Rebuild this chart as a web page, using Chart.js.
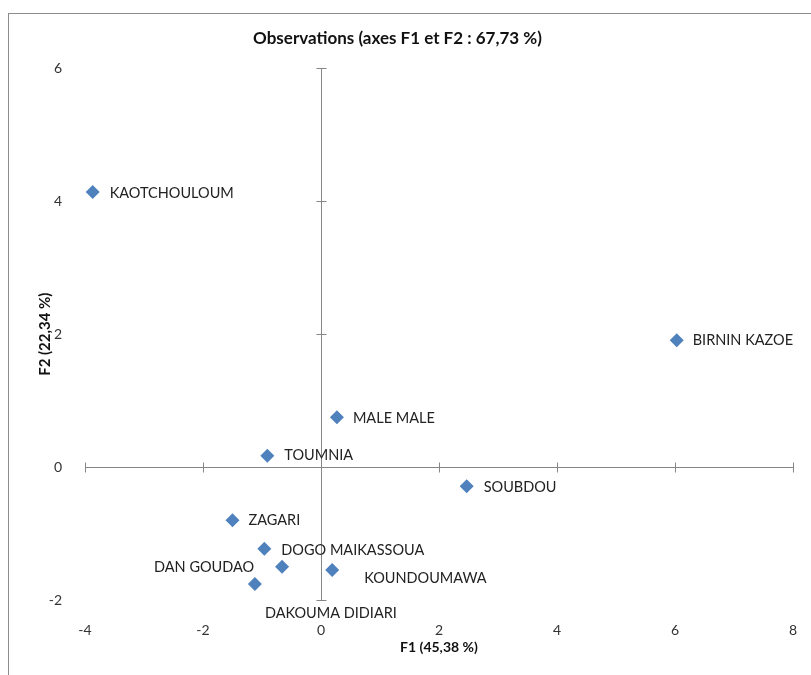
<!DOCTYPE html>
<html>
<head>
<meta charset="utf-8">
<script src="https://cdn.jsdelivr.net/npm/chart.js@4"></script>
<style>
  html, body { margin: 0; padding: 0; background: #fff; }
  canvas { display: block; }
</style>
</head>
<body>
<canvas id="chart" width="811" height="675"></canvas>
<script>
// observations (ACP, axes F1 / F2)
const names = ['KAOTCHOULOUM', 'BIRNIN KAZOE', 'MALE MALE', 'TOUMNIA', 'SOUBDOU',
  'ZAGARI', 'DOGO MAIKASSOUA', 'DAN GOUDAO', 'KOUNDOUMAWA', 'DAKOUMA DIDIARI']
const f1 = [-3.87, 6.03, 0.27, -0.91, 2.47, -1.50, -0.96, -0.66, 0.19, -1.12]
const f2 = [4.14, 1.91, 0.75, 0.17, -0.29, -0.80, -1.23, -1.50, -1.55, -1.76]

const xTicks = [-4, -2, 0, 2, 4, 6, 8]
const yTicks = [-2, 0, 2, 4, 6]

// where each label sits relative to its point (px)
const labelDx = [17, 16, 16, 17, 17, 16, 17, -128, 32, 10]
const labelDy = [1, 0, 1, 0, 1, 0, 1, 1, 8, 29]

const axisColor = '#868686'
const fontFam = 'Lato, "Open Sans", sans-serif'

const points = f1.map((x, i) => ({ x: x, y: f2[i] }))

// frame + axes through zero, like Excel
const axesPlugin = {
  id: 'axesZero',
  beforeDraw(chart) {
    const ctx = chart.ctx
    ctx.save()
    ctx.strokeStyle = '#8c8c8c'
    ctx.lineWidth = 1
    ctx.strokeRect(8.5, 13.5, 820, 700)
    ctx.restore()
  },
  beforeDatasetsDraw(chart) {
    const ctx = chart.ctx
    const xs = chart.scales.x, ys = chart.scales.y
    const x0 = Math.round(xs.getPixelForValue(0)) + 0.5
    const y0 = Math.round(ys.getPixelForValue(0)) + 0.5
    ctx.save()
    ctx.strokeStyle = axisColor
    ctx.lineWidth = 1
    ctx.beginPath()
    ctx.moveTo(xs.left, y0); ctx.lineTo(xs.right, y0)
    ctx.moveTo(x0, ys.top); ctx.lineTo(x0, ys.bottom)
    xTicks.forEach(v => {
      const px = Math.round(xs.getPixelForValue(v)) + 0.5
      ctx.moveTo(px, y0 - 5); ctx.lineTo(px, y0 + 5)
    })
    yTicks.forEach(v => {
      const py = Math.round(ys.getPixelForValue(v)) + 0.5
      ctx.moveTo(x0 - 5, py); ctx.lineTo(x0 + 5, py)
    })
    ctx.stroke()
    ctx.restore()
  },
  afterDatasetsDraw(chart) {
    const ctx = chart.ctx
    const meta = chart.getDatasetMeta(0)
    ctx.save()
    ctx.font = '14.5px ' + fontFam
    ctx.fillStyle = '#222'
    ctx.textBaseline = 'middle'
    ctx.textAlign = 'left'
    meta.data.forEach((el, i) => {
      ctx.fillText(names[i], el.x + labelDx[i], el.y + labelDy[i])
    })
    ctx.restore()
  }
}

new Chart(document.getElementById('chart'), {
  type: 'scatter',
  data: {
    datasets: [{
      label: 'Observations',
      data: points,
      pointStyle: 'rectRot',
      pointRadius: 7,
      pointHoverRadius: 7,
      pointBorderWidth: 0,
      backgroundColor: '#4F81BD',
      borderColor: '#4F81BD'
    }]
  },
  options: {
    responsive: false,
    animation: false,
    events: [],
    layout: { padding: { left: 0, right: 16, top: 0, bottom: 0 } },
    plugins: {
      legend: { display: false },
      tooltip: { enabled: false },
      title: {
        display: true,
        text: 'Observations (axes F1 et F2 : 67,73 %)',
        color: '#111',
        font: { family: fontFam, size: 17, weight: 'bold', lineHeight: 1.2 },
        padding: { top: 28, bottom: 20 }
      }
    },
    scales: {
      x: {
        type: 'linear',
        min: -4, max: 8,
        afterBuildTicks: s => { s.ticks = xTicks.map(v => ({ value: v })) },
        afterFit: s => { s.height = 75 },
        grid: { display: false },
        border: { display: false },
        ticks: { color: '#333', padding: 14, font: { family: fontFam, size: 14 } },
        title: {
          display: true,
          text: 'F1 (45,38 %)',
          color: '#111',
          font: { family: fontFam, size: 14, weight: 'bold', lineHeight: 1.2 },
          padding: { top: 0, bottom: 19 }
        }
      },
      y: {
        type: 'linear',
        min: -2, max: 6,
        afterBuildTicks: s => { s.ticks = yTicks.map(v => ({ value: v })) },
        afterFit: s => { s.width = 85 },
        grid: { display: false },
        border: { display: false },
        ticks: { color: '#333', padding: 15, font: { family: fontFam, size: 14 } },
        title: {
          display: true,
          text: 'F2 (22,34 %)',
          color: '#111',
          font: { family: fontFam, size: 15, weight: 'bold', lineHeight: 1.2 },
          padding: { top: 36, bottom: 0 }
        }
      }
    }
  },
  plugins: [axesPlugin]
})
</script>
</body>
</html>
